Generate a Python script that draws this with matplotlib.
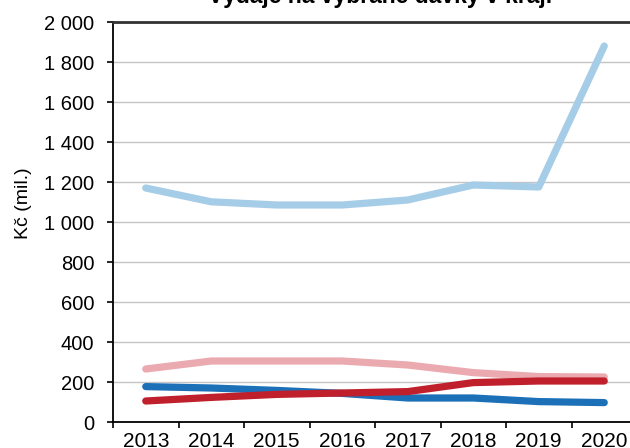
import matplotlib
matplotlib.use("Agg")
import matplotlib.pyplot as plt
import numpy as np

years = ["2013", "2014", "2015", "2016", "2017", "2018", "2019", "2020"]
light_blue = [1170, 1101, 1085, 1085, 1110, 1185, 1175, 1880]
pink = [265, 305, 305, 305, 285, 247, 227, 225]
dark_blue = [177, 170, 158, 143, 120, 120, 102, 97]
red = [105, 123, 138, 145, 152, 197, 205, 205]
yticks = [0, 200, 400, 600, 800, 1000, 1200, 1400, 1600, 1800, 2000]
ytick_labels = ["0", "200", "400", "600", "800", "1 000", "1 200", "1 400", "1 600", "1 800", "2 000"]

plt.rcParams['font.family'] = ['Liberation Sans', 'DejaVu Sans']

W, H = 630, 448
fig = plt.figure(figsize=(W / 100, H / 100), dpi=100)
left, right, top, bottom = 113, 113 + 8 * 65.5, 22, 422
ax = fig.add_axes([left / W, (H - bottom) / H, (right - left) / W, (bottom - top) / H])

x = np.arange(len(years))
series = [(light_blue, "#A6CDE8"), (pink, "#EAAAB0"), (dark_blue, "#1B70B8"), (red, "#C0202C")]
for vals, col in series:
    ax.plot(x, vals, color=col, lw=5.2, solid_capstyle='round', solid_joinstyle='round', zorder=3)

ax.set_xlim(-0.5, len(years) - 0.5)
ax.set_ylim(0, 2000)
ax.set_yticks(yticks)
ax.set_yticklabels(ytick_labels)
ax.set_xticks(x)
ax.set_xticklabels(years)
ax.set_xticks(np.arange(-0.5, len(years) + 0.5, 1), minor=True)
ax.tick_params(axis='x', which='major', length=0, pad=7, labelsize=15)
ax.tick_params(axis='x', which='minor', length=4.5, width=1.2, direction='out', color='black')
ax.tick_params(axis='y', length=4.5, width=1.2, pad=9, labelsize=14.5, color='black')

ax.yaxis.grid(True, color='#C4C4C4', lw=1.0)
ax.set_axisbelow(True)
for s in ['left', 'bottom', 'top']:
    ax.spines[s].set_color('black')
    ax.spines[s].set_linewidth(1.3)
ax.spines['top'].set_color('#333333')
ax.spines['top'].set_linewidth(2.0)
ax.spines['right'].set_visible(False)

fig.text(24 / W, 1 - 203 / H, "Kč (mil.)", rotation=90, ha='center', va='center', fontsize=14)
fig.text(380 / W, 1 - 3 / H, "Výdaje na vybrané dávky v kraji", ha='center', va='baseline',
         fontsize=16.5, fontweight='bold')

fig.savefig("out.png", dpi=100)
